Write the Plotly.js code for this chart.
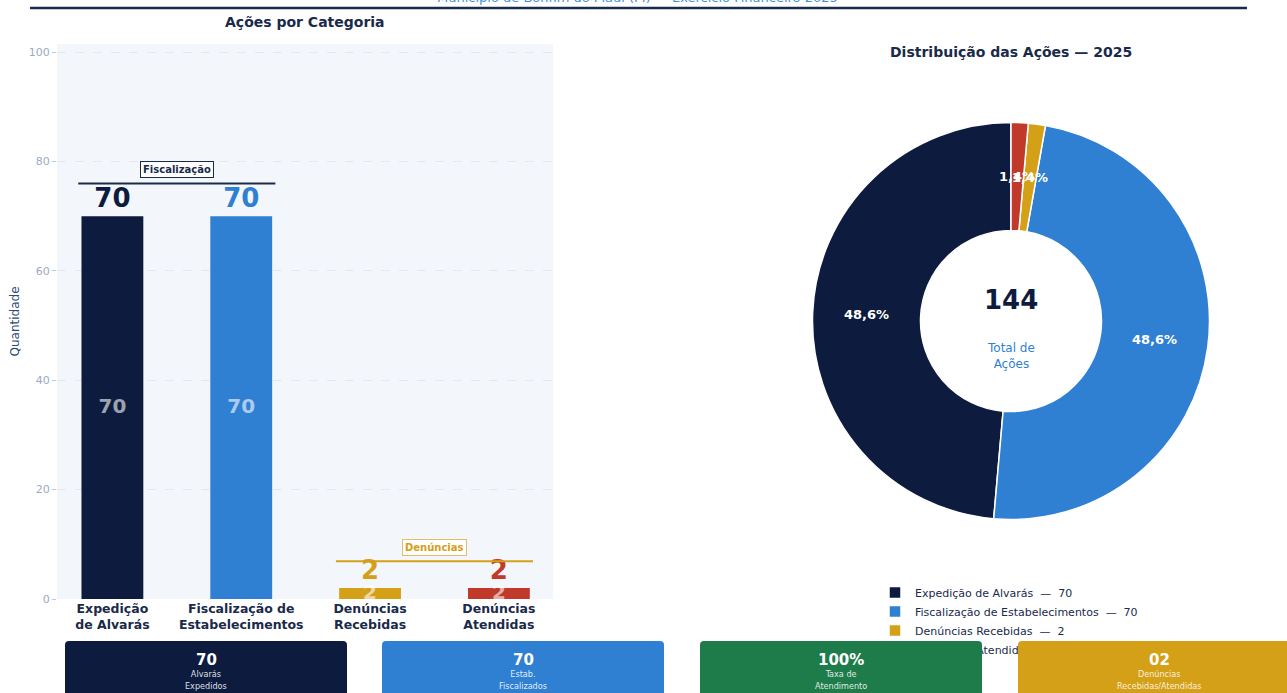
<!DOCTYPE html>
<html>
<head>
<meta charset="utf-8">
<script src="https://cdn.plot.ly/plotly-3.0.1.min.js"></script>
<style>
  html, body { margin: 0; padding: 0; background: #ffffff; }
  #wrap { position: relative; width: 1287px; height: 693px; overflow: hidden; }
  #main, #cards { position: absolute; left: 0; top: 0; width: 1287px; height: 693px; }
  #cards { pointer-events: none; }
</style>
</head>
<body>
<div id="wrap">
  <div id="main"></div>
  <div id="cards"></div>
</div>
<script>
// ---------- data ----------
const categories = ['Expedição de Alvarás', 'Fiscalização de Estabelecimentos', 'Denúncias Recebidas', 'Denúncias Atendidas'];
const tickLabels = ['Expedição<br>de Alvarás', 'Fiscalização de<br>Estabelecimentos', 'Denúncias<br>Recebidas', 'Denúncias<br>Atendidas'];
const values = [70, 70, 2, 2];
const barColors = ['#0d1b3e', '#2f7fd3', '#d4a017', '#c0392b'];
const yTicks = [0, 20, 40, 60, 80, 100];

const groupNames = ['Fiscalização', 'Denúncias'];
const groupColors = ['#1a2a4a', '#d4a017'];

const cardValues = ['70', '70', '100%', '02'];
const cardLabels = ['Alvarás<br>Expedidos', 'Estab.<br>Fiscalizados', 'Taxa de<br>Atendimento', 'Denúncias<br>Recebidas/Atendidas'];
const cardColors = ['#0d1b3e', '#2f7fd3', '#1e7b4a', '#d4a017'];

const subtitle = 'Município de Bonfim do Piauí (PI) — Exercício Financeiro 2025';
const barTitle = 'Ações por Categoria';
const pieTitle = 'Distribuição das Ações — 2025';

// ---------- helpers ----------
const W = 1287, H = 693;
const px = x => x / W;
const py = y => 1 - y / H;
const FONT = 'DejaVu Sans, sans-serif';
const NAVY = '#1a2a4a';

const total = values.reduce((a, b) => a + b, 0);
const pctText = values.map(v => (v / total * 100).toFixed(1).replace('.', ',') + '%');
const legendLabels = categories.map((c, i) => c + '  —  ' + values[i]);

// pie geometry (pixels)
const pieCx = 1011, pieCy = 321, pieR = 198.5, holeFrac = 0.456;
const firstDeg = values[0] / total * 360;

// ---------- traces ----------
const barTrace = {
  type: 'bar',
  x: categories,
  y: values,
  marker: { color: barColors },
  width: 0.48,
  text: values.map(String),
  textposition: 'outside',
  textfont: { family: FONT, size: 26, color: barColors, weight: 'bold' },
  cliponaxis: false,
  showlegend: false,
  hoverinfo: 'skip',
  xaxis: 'x', yaxis: 'y'
};

const innerText = {
  type: 'scatter',
  mode: 'text',
  x: categories,
  y: values.map(v => v / 2),
  text: values.map(String),
  textfont: { family: FONT, size: 20, color: 'rgba(255,255,255,0.6)', weight: 'bold' },
  cliponaxis: false,
  showlegend: false,
  hoverinfo: 'skip',
  xaxis: 'x', yaxis: 'y'
};

const pieTrace = {
  type: 'pie',
  labels: legendLabels,
  values: values,
  sort: false,
  direction: 'counterclockwise',
  rotation: -firstDeg,
  hole: holeFrac,
  marker: { colors: barColors, line: { color: '#ffffff', width: 1.5 } },
  textinfo: 'none',
  domain: { x: [px(pieCx - pieR), px(pieCx + pieR)], y: [py(pieCy + pieR), py(pieCy - pieR)] },
  hoverinfo: 'skip'
};

// ---------- brackets ----------
const groupSpans = [[0, 1], [2, 3]];
const groupLineY = [76, 6.9];
const groupLabelY = [78.6, 9.5];
const shapes = [];
const annotations = [];

groupSpans.forEach((s, i) => {
  shapes.push({
    type: 'line', xref: 'x', yref: 'y',
    x0: s[0] - 0.265, x1: s[1] + 0.265, y0: groupLineY[i], y1: groupLineY[i],
    line: { color: groupColors[i], width: 2 }
  });
  annotations.push({
    xref: 'x', yref: 'y', x: (s[0] + s[1]) / 2, y: groupLabelY[i],
    text: '<b>' + groupNames[i] + '</b>', showarrow: false,
    font: { family: FONT, size: 10, color: groupColors[i] },
    bgcolor: '#ffffff', bordercolor: i === 0 ? '#1a2a4a' : '#e0be6a', borderwidth: 1, borderpad: 2
  });
});

// pie percentage labels at the middle of the ring (angles from the data, counterclockwise from 12 o'clock)
{
  const rMid = pieR * (1 + holeFrac) / 2;
  let acc = 0;
  values.forEach((v, i) => {
    const mid = (acc + v / 2) / total * 2 * Math.PI;
    acc += v;
    const x = pieCx - rMid * Math.sin(mid);
    const y = pieCy - rMid * Math.cos(mid);
    annotations.push({
      xref: 'paper', yref: 'paper', x: px(x), y: py(y), xanchor: 'center', yanchor: 'middle',
      text: '<b>' + pctText[i] + '</b>', showarrow: false,
      font: { family: FONT, size: 13, color: '#ffffff' }
    });
  });
}

// header line
shapes.push({
  type: 'line', xref: 'paper', yref: 'paper',
  x0: px(30), x1: px(1247), y0: py(8), y1: py(8),
  line: { color: NAVY, width: 2.5 }
});

annotations.push(
  { xref: 'paper', yref: 'paper', x: px(637), y: py(7), yanchor: 'bottom', xanchor: 'center',
    text: subtitle, showarrow: false, font: { family: FONT, size: 13, color: '#4a90d9' } },
  { xref: 'paper', yref: 'paper', x: px(305), y: py(22), yanchor: 'middle', xanchor: 'center',
    text: '<b>' + barTitle + '</b>', showarrow: false, font: { family: FONT, size: 14, color: NAVY } },
  { xref: 'paper', yref: 'paper', x: px(pieCx), y: py(52), yanchor: 'middle', xanchor: 'center',
    text: '<b>' + pieTitle + '</b>', showarrow: false, font: { family: FONT, size: 14, color: NAVY } },
  { xref: 'paper', yref: 'paper', x: px(pieCx), y: py(300), yanchor: 'middle', xanchor: 'center',
    text: '<b>' + total + '</b>', showarrow: false, font: { family: FONT, size: 26, color: '#0d1b3e' } },
  { xref: 'paper', yref: 'paper', x: px(pieCx), y: py(356), yanchor: 'middle', xanchor: 'center',
    text: 'Total de<br>Ações', showarrow: false, font: { family: FONT, size: 12, color: '#2f7fd3' } }
);

const layout = {
  width: W, height: H,
  margin: { l: 0, r: 0, t: 0, b: 0 },
  paper_bgcolor: '#ffffff',
  plot_bgcolor: '#f3f6fb',
  font: { family: FONT },
  showlegend: true,
  xaxis: {
    domain: [px(57), px(553)],
    type: 'category',
    categoryarray: categories,
    range: [-0.43, 3.42],
    tickvals: categories,
    ticktext: tickLabels.map(t => '<b>' + t.replace('<br>', '</b><br><b>') + '</b>'),
    tickfont: { family: FONT, size: 12.5, color: NAVY },
    ticks: '', showgrid: false, zeroline: false, showline: false,
    fixedrange: true
  },
  yaxis: {
    domain: [py(599), py(44)],
    range: [0, 101.5],
    tickvals: yTicks,
    ticks: 'outside', ticklen: 4, tickcolor: '#c0cadb',
    tickfont: { family: FONT, size: 11, color: '#9aaac4' },
    showgrid: true, gridcolor: '#e4e9f1', griddash: 'dash', gridwidth: 1,
    zeroline: false, showline: false,
    title: { text: 'Quantidade', font: { family: FONT, size: 12, color: '#2c4a7a' }, standoff: 6 },
    fixedrange: true
  },
  legend: {
    x: px(875), y: py(578), xanchor: 'left', yanchor: 'top',
    font: { family: FONT, size: 11, color: NAVY },
    bgcolor: 'rgba(255,255,255,0)', borderwidth: 0,
    itemclick: false, itemdoubleclick: false
  },
  shapes: shapes,
  annotations: annotations
};

Plotly.newPlot('main', [barTrace, innerText, pieTrace], layout, { displayModeBar: false, staticPlot: true });

// ---------- KPI cards (overlay) ----------
const cardX = [65, 382, 700, 1018];
const cardW = 282, cardTop = 641, cardBottom = 720, rad = 4;
const cardShapes = [];
const cardAnn = [];
cardValues.forEach((v, i) => {
  const x0 = cardX[i], x1 = x0 + cardW, y0 = cardTop, y1 = cardBottom;
  const path = `M ${x0} ${y1} L ${x0} ${y0 + rad} Q ${x0} ${y0} ${x0 + rad} ${y0} L ${x1 - rad} ${y0} Q ${x1} ${y0} ${x1} ${y0 + rad} L ${x1} ${y1} Z`;
  cardShapes.push({ type: 'path', xref: 'x', yref: 'y', path: path, fillcolor: cardColors[i], line: { width: 0 } });
  cardAnn.push(
    { xref: 'x', yref: 'y', x: x0 + cardW / 2, y: 660, text: '<b>' + v + '</b>', showarrow: false,
      font: { family: FONT, size: 15, color: '#ffffff' }, yanchor: 'middle' },
    { xref: 'x', yref: 'y', x: x0 + cardW / 2, y: 680, text: cardLabels[i], showarrow: false,
      font: { family: 'DejaVu Sans Condensed, DejaVu Sans, sans-serif', size: 9, color: 'rgba(255,255,255,0.88)' }, yanchor: 'middle' }
  );
});

Plotly.newPlot('cards', [], {
  width: W, height: H,
  margin: { l: 0, r: 0, t: 0, b: 0 },
  paper_bgcolor: 'rgba(0,0,0,0)', plot_bgcolor: 'rgba(0,0,0,0)',
  xaxis: { range: [0, W], visible: false, fixedrange: true },
  yaxis: { range: [H, 0], visible: false, fixedrange: true },
  shapes: cardShapes,
  annotations: cardAnn,
  showlegend: false
}, { displayModeBar: false, staticPlot: true });
</script>
</body>
</html>
